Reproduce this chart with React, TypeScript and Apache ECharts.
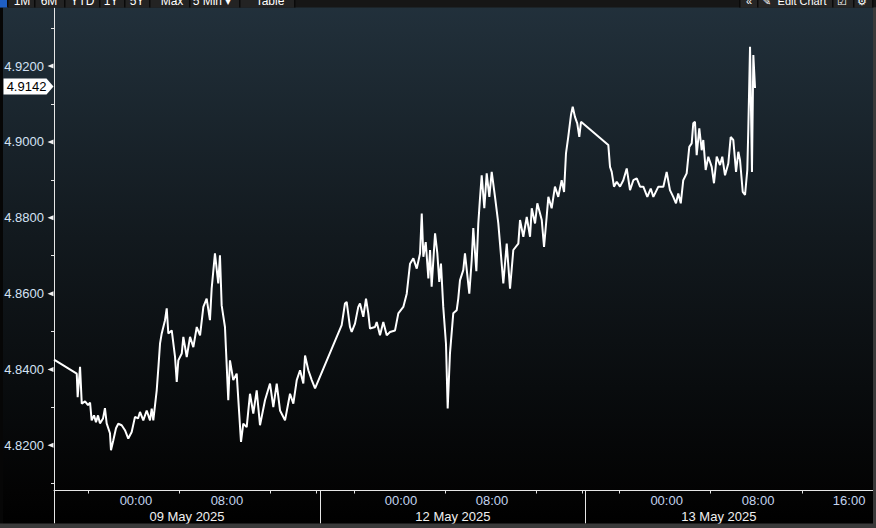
import React, { useEffect, useRef } from "react";
import * as echarts from "echarts";

// Chart time axis in "session hours" from the left edge (sessions laid side by side)
const priceHours = [
  0.00, 2.00, 2.08, 2.29, 2.44, 2.73, 2.99, 3.17, 3.31, 3.52, 3.69, 3.87, 4.04, 4.31, 4.48, 4.63, 4.92, 5.01, 5.21, 5.45,
  5.65, 5.95, 6.24, 6.53, 6.83, 7.12, 7.39, 7.56, 7.85, 8.15, 8.44, 8.59, 8.73, 9.03, 9.19, 9.32, 9.47, 9.76, 9.91, 10.05,
  10.35, 10.64, 10.79, 10.93, 11.23, 11.37, 11.67, 11.96, 12.25, 12.55, 12.84, 13.13, 13.42, 13.71, 13.86, 14.15, 14.44, 14.59, 14.74, 15.03,
  15.32, 15.47, 15.76, 16.06, 16.44, 16.64, 16.94, 17.23, 17.52, 17.82, 18.11, 18.55, 18.99, 19.28, 19.58, 19.87, 20.31, 20.75, 21.04, 21.34,
  21.63, 21.92, 22.07, 22.36, 22.66, 22.95, 25.29, 25.58, 25.73, 26.02, 26.17, 26.46, 26.75, 26.90, 27.19, 27.43, 27.63, 27.78, 28.22, 28.37,
  28.66, 28.95, 29.25, 29.54, 29.98, 30.27, 30.71, 31.01, 31.30, 31.59, 31.89, 32.18, 32.33, 32.47, 32.68, 32.91, 33.06, 33.20, 33.50, 33.70,
  33.87, 34.02, 34.22, 34.46, 34.61, 34.81, 35.10, 35.40, 35.54, 35.69, 35.98, 36.13, 36.51, 36.72, 36.86, 37.13, 37.30, 37.45, 37.60, 37.83,
  38.04, 38.27, 38.48, 38.77, 39.06, 39.21, 39.50, 39.80, 40.09, 40.38, 40.82, 40.97, 41.26, 41.56, 41.85, 42.00, 42.29, 42.49, 42.88, 43.08,
  43.31, 43.46, 43.75, 44.04, 44.33, 44.63, 44.84, 45.01, 45.21, 45.45, 45.60, 45.80, 46.00, 46.18, 46.33, 48.73, 48.88, 49.03, 49.23, 49.47,
  49.76, 50.05, 50.35, 50.64, 50.93, 51.23, 51.52, 51.81, 52.16, 52.46, 52.69, 53.13, 53.57, 53.86, 54.15, 54.44, 54.68, 54.88, 55.10, 55.32,
  55.62, 55.85, 56.06, 56.20, 56.35, 56.50, 56.73, 56.94, 57.08, 57.29, 57.52, 57.82, 58.02, 58.26, 58.55, 58.75, 58.99, 59.28, 59.49, 59.72,
  59.96, 60.16, 60.31, 60.55, 60.75, 60.95, 61.04, 61.19, 61.36, 61.48, 61.63,
];

const priceValues = [
  4.8426, 4.8389, 4.8327, 4.8407, 4.8310, 4.8316, 4.8306, 4.8313, 4.8266, 4.8279, 4.8261, 4.8279, 4.8258, 4.8271, 4.8298, 4.8258, 4.8232, 4.8187, 4.8213, 4.8245,
  4.8257, 4.8253, 4.8240, 4.8218, 4.8235, 4.8275, 4.8271, 4.8288, 4.8266, 4.8292, 4.8266, 4.8297, 4.8266, 4.8345, 4.8411, 4.8468, 4.8495, 4.8530, 4.8561, 4.8495,
  4.8503, 4.8433, 4.8367, 4.8424, 4.8442, 4.8486, 4.8433, 4.8486, 4.8459, 4.8512, 4.8490, 4.8565, 4.8587, 4.8530, 4.8613, 4.8706, 4.8627, 4.8701, 4.8569, 4.8512,
  4.8319, 4.8424, 4.8372, 4.8389, 4.8209, 4.8257, 4.8248, 4.8336, 4.8284, 4.8345, 4.8253, 4.8319, 4.8363, 4.8301, 4.8363, 4.8292, 4.8266, 4.8336, 4.8310, 4.8372,
  4.8398, 4.8363, 4.8437, 4.8398, 4.8372, 4.8350, 4.8517, 4.8574, 4.8578, 4.8512, 4.8499, 4.8521, 4.8565, 4.8574, 4.8539, 4.8587, 4.8548, 4.8508, 4.8512, 4.8525,
  4.8490, 4.8525, 4.8490, 4.8499, 4.8503, 4.8548, 4.8565, 4.8600, 4.8679, 4.8693, 4.8666, 4.8706, 4.8811, 4.8697, 4.8736, 4.8640, 4.8715, 4.8618, 4.8759, 4.8706,
  4.8631, 4.8679, 4.8565, 4.8468, 4.8297, 4.8442, 4.8548, 4.8556, 4.8587, 4.8635, 4.8662, 4.8706, 4.8600, 4.8688, 4.8773, 4.8659, 4.8785, 4.8851, 4.8912, 4.8825,
  4.8917, 4.8855, 4.8921, 4.8855, 4.8785, 4.8732, 4.8627, 4.8732, 4.8613, 4.8715, 4.8732, 4.8794, 4.8750, 4.8802, 4.8750, 4.8825, 4.8785, 4.8838, 4.8794, 4.8723,
  4.8802, 4.8855, 4.8825, 4.8882, 4.8855, 4.8899, 4.8868, 4.8970, 4.9013, 4.9071, 4.9093, 4.9066, 4.9049, 4.9013, 4.9053, 4.8992, 4.8934, 4.8921, 4.8882, 4.8895,
  4.8882, 4.8899, 4.8930, 4.8873, 4.8899, 4.8904, 4.8882, 4.8882, 4.8855, 4.8877, 4.8855, 4.8882, 4.8882, 4.8921, 4.8873, 4.8855, 4.8838, 4.8864, 4.8838, 4.8899,
  4.8917, 4.8987, 4.8996, 4.9049, 4.9053, 4.8965, 4.9036, 4.8978, 4.9005, 4.8926, 4.8961, 4.8934, 4.8891, 4.8961, 4.8939, 4.8961, 4.8912, 4.8943, 4.9013, 4.9005,
  4.8921, 4.8974, 4.8952, 4.8868, 4.8860, 4.8926, 4.9036, 4.9251, 4.8921, 4.9229, 4.9142,
];

const lastPrice = 4.9142;
const yMin = 4.8081;
const yMax = 4.9353;
const yLabelValues = [4.82, 4.84, 4.86, 4.88, 4.9, 4.92];
const yMinorTickValues = [4.81, 4.83, 4.85, 4.87, 4.89, 4.91, 4.93];

const xMax = 72;
const xTickHours = [3.0, 11.0, 19.0, 23.03, 26.4, 34.37, 42.43, 46.48, 49.7, 57.67, 65.82];
const xLabelHours = [7.2, 15.2, 30.5, 38.5, 53.86, 61.9, 69.9];
const xLabelTexts = ["00:00", "08:00", "00:00", "08:00", "00:00", "08:00", "16:00"];
const sessionStartHours = [0, 23.38, 46.74];
const dateCenterHours = [11.69, 35.07, 58.45];
const dateTexts = ["09 May 2025", "12 May 2025", "13 May 2025"];

const toolbarLeftTexts = ["1M", "6M", "YTD", "1Y", "5Y", "Max", "5 Min \u25BE", "Table"];
const toolbarRightTexts = ["\u00AB", "\u270E", "Edit Chart", "\u2611", "\u2699"];

const FONT = "'Liberation Sans', Arial, sans-serif";

function pick(values: number[], texts: string[], v: number): string {
  const i = values.findIndex((h) => Math.abs(h - v) < 1e-6);
  return i >= 0 ? texts[i] : "";
}

export default function App() {
  const ref = useRef<HTMLDivElement>(null);

  useEffect(() => {
    if (!ref.current) return;
    const chart = echarts.init(ref.current, undefined, { renderer: "svg" });

    const leftCenters = [22, 49, 82.5, 111, 137, 172, 212, 270];
    const leftSeps = [8, 35, 65, 100, 125, 150, 190, 240, 295];
    const rightCenters = [749, 766, 802, 842, 862];
    const rightSeps = [740, 758, 833, 854, 873];

    const graphics: any[] = [
      {
        type: "rect",
        silent: true,
        z: -100,
        shape: { x: 0, y: 0, width: 876, height: 528 },
        style: {
          fill: new echarts.graphic.LinearGradient(0, 0, 0, 1, [
            { offset: 0, color: "#22313c" },
            { offset: 0.45, color: "#12191e" },
            { offset: 0.93, color: "#030303" },
            { offset: 1, color: "#000000" },
          ]),
        },
      },
      { type: "rect", silent: true, z: 100, shape: { x: 0, y: 0, width: 876, height: 7.5 }, style: { fill: "#161616" } },
      { type: "rect", silent: true, z: 100, shape: { x: 8, y: 0, width: 287, height: 7.5 }, style: { fill: "#232323" } },
      { type: "rect", silent: true, z: 100, shape: { x: 740, y: 0, width: 133, height: 7.5 }, style: { fill: "#262626" } },
      { type: "rect", silent: true, z: 101, shape: { x: 0, y: 0, width: 8, height: 7.5 }, style: { fill: "#1f5fc4" } },
      { type: "rect", silent: true, z: 100, shape: { x: 0, y: 7.5, width: 3, height: 521 }, style: { fill: "#060606" } },
      { type: "rect", silent: true, z: 100, shape: { x: 873, y: 7.5, width: 3, height: 521 }, style: { fill: "#3a3a3a" } },
      { type: "rect", silent: true, z: 100, shape: { x: 0, y: 523.5, width: 876, height: 4.5 }, style: { fill: "#3a3a3a" } },
    ];
    [...leftSeps, ...rightSeps].forEach((x) => {
      graphics.push({
        type: "rect",
        silent: true,
        z: 102,
        shape: { x: x - 1, y: 0, width: 1.5, height: 7.5 },
        style: { fill: "#0a0a0a" },
      });
    });
    toolbarLeftTexts.forEach((t, i) => {
      graphics.push({
        type: "text",
        silent: true,
        z: 103,
        x: leftCenters[i],
        y: 1,
        style: { text: t, fill: "#ffffff", font: `12px ${FONT}`, align: "center", verticalAlign: "middle" },
      });
    });
    toolbarRightTexts.forEach((t, i) => {
      graphics.push({
        type: "text",
        silent: true,
        z: 103,
        x: rightCenters[i],
        y: 1,
        style: { text: t, fill: "#ffffff", font: `11px ${FONT}`, align: "center", verticalAlign: "middle" },
      });
    });

    const triangleMarks = yLabelValues.map((v) => ({
      coord: [0, v],
      symbol: "path://M0,5L6,0L6,10Z",
      symbolSize: [6, 5],
      symbolOffset: [-3.5, 0],
      itemStyle: { color: "#f2f2f2" },
      label: { show: false },
    }));

    const option: any = {
      animation: false,
      backgroundColor: "transparent",
      textStyle: { fontFamily: FONT },
      graphic: { elements: graphics },
      grid: { left: 54, right: 3, top: 8, bottom: 37.5, containLabel: false, outerBoundsMode: "none" },
      xAxis: [
        {
          type: "value",
          min: 0,
          max: xMax,
          position: "bottom",
          axisLine: { show: true, onZero: false, lineStyle: { color: "#e6e6e6", width: 1 } },
          axisTick: { show: true, customValues: xTickHours, length: 3, lineStyle: { color: "#e6e6e6", width: 1 } },
          axisLabel: {
            show: true,
            customValues: xLabelHours,
            formatter: (v: number) => pick(xLabelHours, xLabelTexts, v),
            color: "#c4d5f0",
            fontSize: 13,
            fontFamily: FONT,
            margin: 3,
          },
          splitLine: { show: false },
        },
        {
          type: "value",
          min: 0,
          max: xMax,
          position: "bottom",
          axisLine: { show: false, onZero: false },
          axisTick: { show: true, customValues: sessionStartHours, length: 33, lineStyle: { color: "#e6e6e6", width: 1 } },
          axisLabel: {
            show: true,
            customValues: dateCenterHours,
            formatter: (v: number) => pick(dateCenterHours, dateTexts, v),
            color: "#f0f0f0",
            fontSize: 13,
            fontFamily: FONT,
            margin: 19,
          },
          splitLine: { show: false },
        },
      ],
      yAxis: {
        type: "value",
        min: yMin,
        max: yMax,
        position: "left",
        axisLine: { show: true, onZero: false, lineStyle: { color: "#e6e6e6", width: 1 } },
        axisTick: { show: true, customValues: yMinorTickValues, length: 3, lineStyle: { color: "#e6e6e6", width: 1 } },
        axisLabel: {
          show: true,
          customValues: yLabelValues,
          formatter: (v: number) => v.toFixed(4),
          color: "#d4e2f4",
          fontSize: 13,
          fontFamily: FONT,
          margin: 10,
        },
        splitLine: { show: false },
      },
      series: [
        {
          type: "line",
          xAxisIndex: 0,
          data: priceHours.map((h, i) => [h, priceValues[i]]),
          symbol: "none",
          showSymbol: false,
          lineStyle: { color: "#ffffff", width: 2 },
          markPoint: {
            silent: true,
            animation: false,
            data: [
              ...triangleMarks,
              {
                coord: [0, lastPrice],
                symbol: "path://M0,0L43,0L50,8L43,16L0,16Z",
                symbolSize: [50, 16],
                symbolOffset: [-25.5, -1.5],
                itemStyle: { color: "#ffffff" },
                label: {
                  show: true,
                  position: "inside",
                  formatter: lastPrice.toFixed(4),
                  color: "#000000",
                  fontSize: 13,
                  fontFamily: FONT,
                  offset: [-2, 0],
                },
              },
            ],
          },
        },
      ],
    };

    chart.setOption(option);
    return () => chart.dispose();
  }, []);

  return (
    <div
      ref={ref}
      style={{ position: "absolute", left: 0, top: 0, width: 876, height: 528, background: "#000" }}
    />
  );
}
